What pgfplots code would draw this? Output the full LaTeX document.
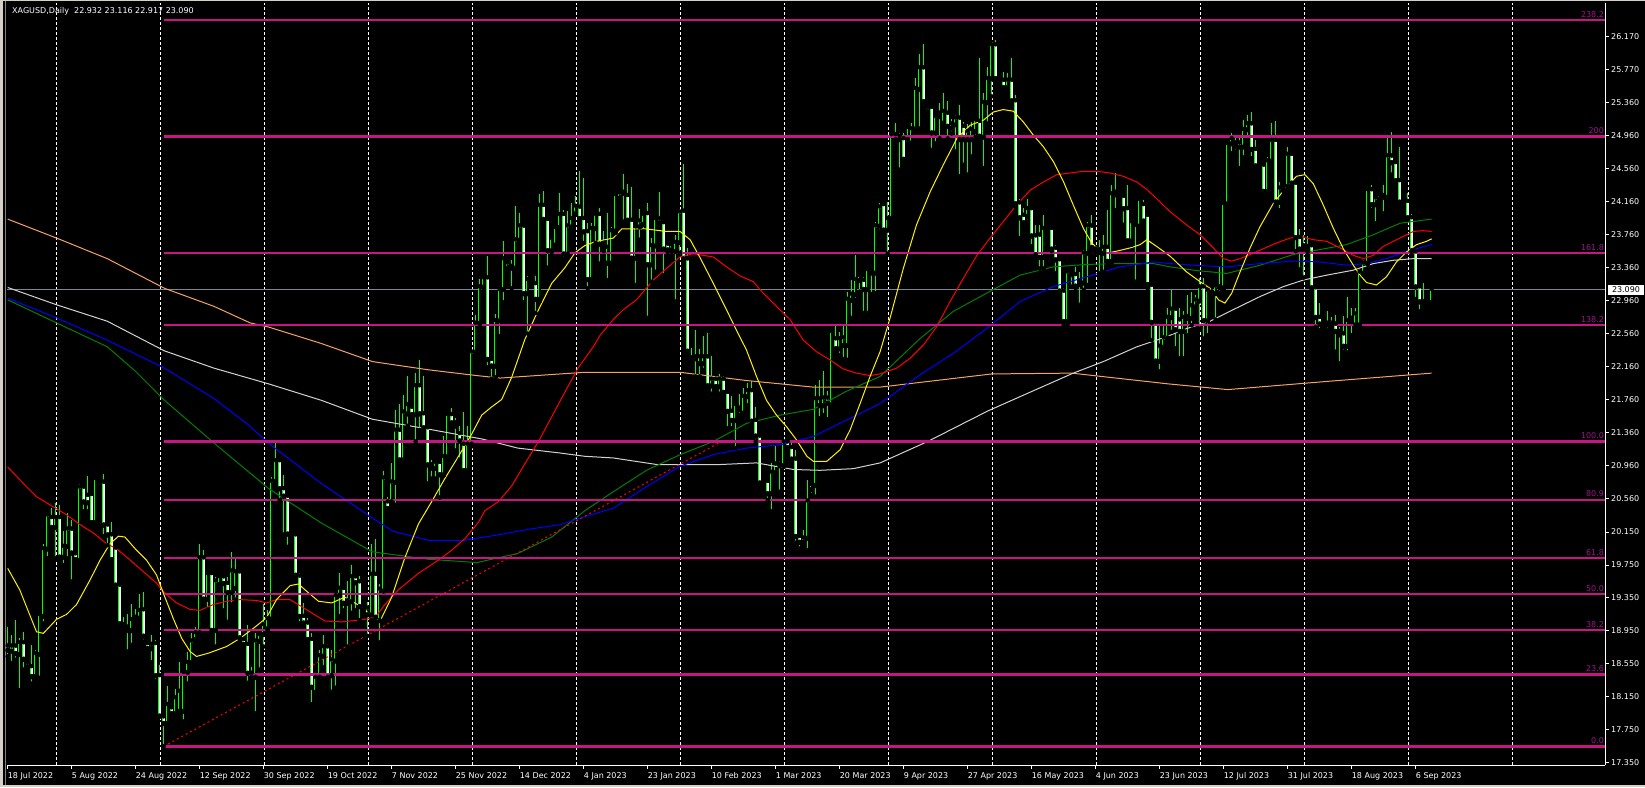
\documentclass[border=0pt]{standalone}
\usepackage{pgfplots}
\usepackage{pgfplotstable}
\pgfplotsset{compat=1.18}
\usepackage{fontspec}
\setmainfont{DejaVu Sans}

\definecolor{candle}{RGB}{0,255,0}
\definecolor{fibc}{RGB}{199,21,133}
\definecolor{fibt}{RGB}{160,20,140}
\definecolor{pricel}{RGB}{120,135,150}
\definecolor{maorange}{RGB}{244,164,96}
\definecolor{magreen}{RGB}{0,128,0}
\definecolor{mablue}{RGB}{0,0,255}
\definecolor{mawhite}{RGB}{210,210,210}
\definecolor{frame}{RGB}{212,208,200}
\newcommand{\tk}{\fontsize{8}{9}\selectfont}
\tikzset{fib/.style={fibc, line width=2.2pt},
  fibl/.style={pos=1, anchor=south east, inner sep=0pt, yshift=1.6pt, text=fibt, font=\tk}}

% XAGUSD daily, one row per bar (18 Jul 2022 .. 11 Sep 2023)
\pgfplotstableread{
o h l c
18.76 19.00 18.64 18.71
18.76 18.90 18.56 18.70
18.76 19.08 18.60 18.67
18.66 18.86 18.23 18.80
18.80 18.94 18.48 18.60
18.56 18.58 18.48 18.51
18.51 18.78 18.31 18.39
18.39 18.72 18.38 18.67
18.66 19.18 18.38 19.14
19.12 20.01 19.04 19.94
19.94 20.36 19.83 20.35
20.32 20.44 20.18 20.20
20.20 20.50 19.83 20.32
20.32 20.48 19.83 19.84
19.84 20.16 19.75 19.97
19.97 20.38 19.83 20.18
20.18 20.30 19.55 19.89
19.88 19.89 19.79 19.81
19.80 20.73 19.78 20.69
20.69 20.71 20.40 20.51
20.59 20.83 20.40 20.50
20.60 20.62 20.24 20.26
20.26 20.82 20.22 20.79
20.76 20.80 20.74 20.77
20.75 20.86 20.10 20.23
20.23 20.26 19.99 20.11
20.11 20.27 19.79 19.81
19.95 19.97 19.47 19.50
19.50 19.51 19.00 19.03
19.02 19.12 18.97 18.99
18.99 19.15 18.70 18.95
18.95 19.28 18.78 19.08
19.11 19.22 19.08 19.08
19.10 19.40 19.08 19.19
19.20 19.42 18.82 18.88
18.79 18.82 18.71 18.73
18.73 18.90 18.57 18.78
18.79 18.84 18.34 18.40
18.40 18.54 17.91 17.91
17.90 17.91 17.55 17.82
17.82 18.28 17.77 18.05
18.01 18.03 17.93 17.94
17.94 18.25 17.91 18.13
17.97 18.57 17.96 18.21
17.97 18.48 17.85 18.44
18.44 18.70 18.31 18.56
18.56 18.93 18.55 18.82
18.84 19.00 18.80 18.92
18.92 20.01 18.90 19.83
19.83 19.93 19.28 19.33
19.33 19.66 19.21 19.64
19.64 19.66 18.90 18.95
18.95 19.61 18.76 19.55
19.51 19.64 19.50 19.60
19.60 19.63 19.20 19.52
19.52 19.61 19.06 19.41
19.41 19.91 19.27 19.67
19.46 19.85 19.33 19.66
19.66 19.69 18.85 18.86
18.84 18.88 18.76 18.78
18.78 19.02 18.32 18.43
18.43 18.51 18.36 18.38
18.38 18.92 17.95 18.82
18.82 18.94 18.48 18.90
18.90 19.28 18.76 19.02
18.97 19.20 18.96 19.09
19.09 20.82 19.08 20.76
20.76 21.24 20.74 21.01
21.01 21.03 20.54 20.67
20.67 20.84 20.12 20.58
20.58 20.60 19.97 20.12
20.12 20.16 20.08 20.13
20.11 20.13 19.61 19.62
19.61 19.65 19.04 19.12
19.12 19.29 19.01 19.04
19.04 19.11 18.79 18.84
18.84 18.92 18.06 18.26
18.20 18.40 18.19 18.38
18.38 18.72 18.37 18.64
18.64 18.90 18.51 18.75
18.75 18.79 18.33 18.38
18.40 18.72 18.21 18.59
18.58 19.38 18.26 19.37
19.38 19.65 19.13 19.46
19.46 19.49 19.20 19.28
19.28 19.56 18.76 19.31
19.30 19.75 19.17 19.60
19.60 19.63 19.20 19.53
19.54 19.62 19.08 19.24
19.24 19.26 19.15 19.20
19.14 19.30 18.89 19.22
19.14 20.01 19.08 19.63
19.63 20.07 19.11 19.11
19.07 19.52 18.81 19.45
19.43 20.89 19.43 20.80
20.51 20.57 20.43 20.43
20.51 20.99 20.50 20.75
20.75 21.63 20.48 21.38
21.38 21.71 20.98 21.02
21.02 21.82 21.02 21.60
21.58 22.05 21.44 21.69
21.66 21.69 21.57 21.57
21.57 22.08 21.25 21.92
21.92 22.24 21.39 21.58
21.58 22.04 21.39 21.41
21.41 21.44 20.74 20.96
20.96 21.03 20.80 20.92
20.92 21.00 20.80 20.99
20.99 21.00 20.57 20.84
20.84 21.32 20.84 21.06
21.06 21.60 21.05 21.57
21.57 21.66 21.44 21.47
21.47 21.53 21.14 21.43
21.34 21.44 21.03 21.25
21.21 21.61 20.87 20.89
20.89 21.44 20.89 21.21
21.21 22.35 21.19 22.33
22.33 22.79 22.32 22.68
22.68 23.22 22.67 23.12
23.12 23.26 23.09 23.23
23.23 23.50 22.15 22.24
22.24 22.26 22.01 22.16
22.16 22.80 22.03 22.71
22.71 23.13 22.53 23.09
23.09 23.68 22.94 23.46
23.35 23.42 23.31 23.41
23.35 23.45 23.11 23.37
23.35 24.11 23.33 23.69
23.69 24.02 23.68 23.86
23.86 23.88 22.94 23.04
23.04 23.26 22.56 23.21
23.18 23.21 23.14 23.16
23.16 23.26 22.81 22.97
22.97 24.25 22.95 24.11
24.11 24.29 23.93 23.94
23.94 23.94 23.36 23.56
23.56 23.74 23.55 23.71
23.63 23.84 23.61 23.84
23.84 24.27 23.81 24.00
24.00 24.06 23.46 23.52
23.52 24.05 23.52 23.86
23.85 24.14 23.84 23.95
24.01 24.23 24.00 24.10
24.09 24.54 23.93 23.95
23.95 24.45 23.66 23.79
23.79 23.90 23.11 23.21
23.21 23.90 23.19 23.83
23.83 24.04 23.66 24.00
24.00 24.08 23.41 23.64
23.65 23.80 23.56 23.61
23.41 24.02 23.21 23.60
23.41 23.86 23.39 23.80
23.80 24.28 23.78 24.24
24.20 24.28 24.16 24.26
24.26 24.50 23.92 24.27
24.23 24.38 23.88 23.93
23.93 24.34 23.47 23.47
23.47 23.88 23.15 23.85
23.85 24.07 23.70 23.92
23.88 24.02 23.80 24.00
24.01 24.15 22.75 23.39
23.39 23.72 23.19 23.62
23.62 23.97 23.31 23.95
23.95 24.28 23.86 23.90
23.90 23.92 23.27 23.58
23.64 23.66 23.55 23.57
23.57 23.66 23.55 23.63
23.55 23.76 22.95 23.66
23.66 24.07 23.54 24.03
24.04 24.62 23.46 23.46
23.46 23.60 22.33 22.34
22.26 22.38 22.20 22.22
22.27 22.60 22.04 22.25
22.19 22.37 22.04 22.27
22.19 22.53 22.12 22.27
22.27 22.57 21.90 21.92
21.92 22.29 21.83 22.00
22.00 22.04 21.90 21.91
21.91 22.07 21.83 22.00
22.00 22.04 21.84 21.84
21.84 21.87 21.41 21.61
21.61 21.80 21.41 21.50
21.50 21.72 21.17 21.69
21.63 21.83 21.57 21.65
21.59 21.90 21.59 21.79
21.79 21.96 21.69 21.86
21.86 21.98 21.47 21.49
21.50 21.67 21.25 21.31
21.31 21.33 20.71 20.74
20.77 20.79 20.74 20.76
20.76 20.78 20.54 20.61
20.61 20.99 20.40 20.87
20.87 21.19 20.83 20.97
20.97 21.01 20.64 20.95
20.95 21.25 20.94 21.24
21.24 21.25 21.15 21.17
21.17 21.23 21.00 21.03
21.03 21.15 20.02 20.09
20.09 20.12 19.95 20.02
20.02 20.17 19.97 20.07
20.07 20.78 19.93 20.52
20.66 20.76 20.60 20.72
20.71 21.94 20.58 21.76
21.68 22.00 21.53 21.76
21.68 22.10 21.57 21.77
21.77 21.86 21.52 21.71
21.69 22.60 21.68 22.58
22.49 22.67 22.34 22.37
22.37 22.58 22.30 22.49
22.41 22.65 22.25 22.50
22.41 23.07 22.24 22.97
22.96 23.21 22.75 23.03
23.03 23.52 22.97 23.21
23.20 23.27 23.07 23.26
23.20 23.25 22.81 23.09
23.09 23.35 22.81 23.33
23.33 23.37 23.04 23.29
23.29 23.92 23.05 23.86
23.86 24.15 23.80 24.09
24.12 24.16 23.76 23.81
23.81 24.16 23.53 23.95
23.95 25.01 23.94 24.97
24.91 25.12 24.89 24.97
24.91 24.99 24.55 24.95
24.92 24.99 24.66 24.67
24.86 25.05 24.81 24.91
24.87 25.12 24.86 25.04
25.04 25.66 25.02 25.53
25.52 25.95 25.05 25.78
25.78 26.07 25.36 25.37
25.30 25.32 25.25 25.25
25.30 25.34 24.79 24.99
24.99 25.22 24.87 25.19
25.23 25.36 24.93 25.19
25.11 25.48 25.09 25.25
25.23 25.38 24.93 25.07
25.05 25.17 24.99 25.10
25.09 25.22 24.77 25.17
25.17 25.34 24.47 24.91
25.07 25.13 24.61 24.91
24.91 25.11 24.49 25.01
24.91 25.13 24.71 25.03
25.01 25.17 24.95 25.15
25.13 25.90 24.93 24.95
24.94 25.48 24.57 25.36
25.36 25.80 25.11 25.65
25.65 26.07 25.44 26.06
26.06 26.12 25.62 25.65
25.65 25.68 25.60 25.62
25.63 25.74 25.50 25.54
25.54 25.72 25.50 25.63
25.63 25.90 25.35 25.38
25.38 25.46 24.10 24.13
24.14 24.20 23.72 23.96
23.99 24.08 23.87 23.90
23.98 24.20 23.92 24.07
24.07 24.09 23.62 23.74
23.74 23.88 23.51 23.51
23.75 23.88 23.35 23.48
23.48 24.00 23.35 23.83
23.84 23.86 23.82 23.85
23.83 23.86 23.56 23.58
23.59 23.64 23.29 23.45
23.45 23.47 23.03 23.07
23.07 23.11 22.66 22.70
22.70 23.32 22.66 23.30
23.27 23.31 23.13 23.30
23.27 23.37 23.11 23.13
23.19 23.31 22.91 23.15
23.17 23.58 23.09 23.53
23.53 23.92 23.15 23.86
23.86 24.00 23.55 23.60
23.58 23.60 23.54 23.57
23.57 23.70 23.29 23.54
23.53 23.76 23.31 23.60
23.60 24.06 23.41 23.43
23.43 24.36 23.42 24.25
24.24 24.51 24.06 24.27
24.22 24.24 24.20 24.22
24.22 24.26 23.88 24.07
24.07 24.37 23.66 23.68
23.68 23.95 23.64 23.91
23.88 23.92 23.19 23.90
23.86 24.21 23.84 24.18
24.12 24.18 23.90 23.92
23.99 24.02 23.11 23.15
23.14 23.17 22.48 22.69
22.69 22.71 22.18 22.22
22.22 22.66 22.10 22.40
22.39 22.66 22.36 22.50
22.50 22.87 22.48 22.75
22.75 23.09 22.58 22.85
22.85 22.87 22.38 22.60
22.72 22.87 22.26 22.58
22.58 22.83 22.26 22.75
22.74 23.03 22.54 22.76
22.74 23.07 22.66 22.89
22.88 23.03 22.83 22.96
22.95 23.23 22.62 23.12
23.12 23.24 22.50 22.71
22.71 23.11 22.54 23.08
23.05 23.09 23.01 23.06
23.04 23.14 22.73 23.13
23.11 23.37 23.05 23.12
23.11 24.14 23.10 24.13
24.13 24.89 24.10 24.86
24.86 25.00 24.75 24.92
24.87 24.93 24.77 24.83
24.87 24.93 24.57 24.82
24.82 25.15 24.70 25.03
25.03 25.22 24.91 25.10
25.10 25.25 24.69 24.79
24.79 24.91 24.58 24.59
24.61 24.62 24.57 24.58
24.60 24.63 24.26 24.28
24.28 24.71 24.26 24.65
24.65 25.12 24.63 24.90
24.90 25.14 24.12 24.15
24.15 24.40 24.06 24.32
24.34 24.37 24.28 24.30
24.34 24.83 24.32 24.73
24.73 24.75 24.37 24.38
24.38 24.41 23.56 23.72
23.72 23.83 23.34 23.58
23.58 23.76 23.24 23.62
23.60 23.74 23.55 23.61
23.62 23.64 23.09 23.11
23.11 23.13 22.64 22.75
22.75 22.93 22.60 22.67
22.68 22.70 22.62 22.67
22.68 22.83 22.60 22.66
22.66 22.76 22.62 22.68
22.67 22.79 22.34 22.58
22.58 22.64 22.20 22.54
22.55 22.77 22.34 22.40
22.40 23.01 22.33 22.71
22.70 22.87 22.54 22.74
22.66 22.87 22.63 22.79
22.66 23.35 22.64 23.30
23.29 23.45 23.27 23.41
23.41 24.34 23.40 24.30
24.30 24.36 24.06 24.12
24.12 24.22 23.90 24.20
24.19 24.28 24.14 24.24
24.21 24.37 24.02 24.23
24.21 24.93 24.20 24.71
24.71 25.01 24.49 24.63
24.63 24.67 24.38 24.41
24.41 24.82 24.15 24.15
24.15 24.17 24.10 24.15
24.16 24.27 23.95 23.96
23.96 24.01 23.55 23.56
23.55 23.59 22.98 23.12
23.12 23.15 22.83 22.94
22.94 23.17 22.86 22.90
22.89 22.96 22.85 22.93
22.932 23.116 22.917 23.090
}\candles

\begin{document}
\begin{tikzpicture}
\useasboundingbox (0,0) rectangle (1645pt,787pt);
\fill[black] (0,0) rectangle (1645pt,787pt);
% window frame
\fill[frame] (0,0) rectangle (3pt,787pt);
\fill[frame] (0,0) rectangle (1645pt,2pt);
\fill[frame] (0,785.5pt) rectangle (1645pt,787pt);
\draw[gray, line width=1pt] (5pt,2pt) -- (5pt,785.5pt);
\begin{axis}[
  at={(7pt,22pt)}, anchor=south west,
  scale only axis, width=1598pt, height=762pt,
  xmin=-0.175, xmax=399.33, ymin=17.322, ymax=26.574,
  axis x line=bottom, axis y line=right,
  axis line style={draw=white, line width=1pt, -},
  tick align=outside, major tick length=4pt,
  tick style={draw=white, line width=1pt},
  xtick={0,16,...,352},
  xticklabels={18 Jul 2022,5 Aug 2022,24 Aug 2022,12 Sep 2022,30 Sep 2022,19 Oct 2022,7 Nov 2022,25 Nov 2022,14 Dec 2022,4 Jan 2023,23 Jan 2023,10 Feb 2023,1 Mar 2023,20 Mar 2023,9 Apr 2023,27 Apr 2023,16 May 2023,4 Jun 2023,23 Jun 2023,12 Jul 2023,31 Jul 2023,18 Aug 2023,6 Sep 2023},
  xticklabel style={anchor=north west, inner sep=0pt, text=white, font=\tk, yshift=-3pt},
  ytick={17.35,17.75,18.15,18.55,18.95,19.35,19.75,20.15,20.56,20.96,21.36,21.76,22.16,22.56,22.96,23.36,23.76,24.16,24.56,24.96,25.36,25.77,26.17},
  yticklabels={17.350,17.750,18.150,18.550,18.950,19.350,19.750,20.150,20.560,20.960,21.360,21.760,22.160,22.560,22.960,23.360,23.760,24.160,24.560,24.960,25.360,25.770,26.170},
  yticklabel style={anchor=west, inner sep=0pt, text=white, font=\tk, xshift=2pt},
  extra x ticks={12.15,38.15,...,376.15},
  extra x tick labels={},
  extra x tick style={grid=major, major tick length=0pt,
    major grid style={draw=white, line width=1pt, dash pattern=on 3pt off 2pt}},
  clip=false,
]
% current price line
\addplot[pricel, line width=1pt] coordinates {(-0.175,23.09) (399.33,23.09)}
  node[pos=1, anchor=west, xshift=2.7pt, fill=white, text=black, font=\tk,
       inner xsep=2pt, inner ysep=1pt, minimum height=10.7pt, minimum width=35.6pt] {23.090};

% wicks
\addplot[only marks, mark=none, forget plot,
  error bars/.cd, y dir=plus, y explicit, error mark=none,
  error bar style={draw=candle, line width=1pt}]
  table[x expr=\coordindex, y=l, y error plus expr=\thisrow{h}-\thisrow{l}] {\candles};
% bodies (outline)
\addplot[only marks, mark=none, forget plot,
  error bars/.cd, y dir=plus, y explicit, error mark=none,
  error bar style={draw=candle, line width=3.4pt}]
  table[x expr=\coordindex, y expr={min(\thisrow{o},\thisrow{c})},
        y error plus expr={max(abs(\thisrow{c}-\thisrow{o}),0.013)}] {\candles};
% bull bodies: black inside
\addplot[only marks, mark=none, forget plot,
  error bars/.cd, y dir=plus, y explicit, error mark=none,
  error bar style={draw=black, line width=1.6pt}]
  table[x expr=\coordindex, y expr={\thisrow{o}+0.0122},
        y error plus expr={max(0,\thisrow{c}-\thisrow{o}-0.0244)}] {\candles};
% bear bodies: white inside
\addplot[only marks, mark=none, forget plot,
  error bars/.cd, y dir=plus, y explicit, error mark=none,
  error bar style={draw=white, line width=1.6pt}]
  table[x expr=\coordindex, y expr={\thisrow{c}+0.0122},
        y error plus expr={max(0,\thisrow{o}-\thisrow{c}-0.0244)}] {\candles};

% moving averages
\addplot[maorange, line width=1pt] coordinates {
(0,23.95) (12.2,23.72) (24.9,23.47) (39.2,23.11) (51.6,22.89) (60.6,22.69) (65.2,22.64) (78.4,22.44) (91.2,22.22) (105.2,22.12) (117.3,22.05) (123.1,22.02) (138.1,22.07) (144.3,22.09) (168.1,22.09) (176.4,22.04) (184.7,21.99) (193.1,21.95) (201.4,21.91) (218.1,21.91) (246,22.07) (266,22.08) (290,21.95) (305,21.88) (330,21.98) (356,22.08)};
\addplot[mawhite, line width=1pt] coordinates {
(0,23.12) (12.2,22.91) (24.9,22.71) (39.2,22.35) (51.6,22.14) (65.2,21.95) (78.4,21.75) (91.2,21.52) (105.2,21.40) (118.6,21.28) (127.5,21.17) (138.1,21.11) (144.3,21.07) (151.4,21.05) (162.3,20.97) (178,20.97) (187.2,20.99) (196.4,20.91) (203.1,20.90) (211.4,20.92) (218.1,20.99) (230,21.25) (245,21.62) (258,21.90) (266.4,22.08) (273.9,22.22) (282.3,22.40) (287.2,22.48) (290.6,22.54) (294.7,22.62) (300.6,22.71) (307.2,22.87) (313.1,23.01) (318.9,23.13) (323.9,23.21) (329.8,23.27) (336.4,23.33) (341.4,23.41) (346.4,23.45) (351.4,23.47) (356,23.47)};
\addplot[magreen, line width=1pt] coordinates {
(0,22.97) (12.2,22.69) (24.9,22.40) (32,22.10) (39.2,21.75) (51.6,21.23) (65.2,20.68) (78.4,20.26) (91.2,19.91) (105.2,19.82) (117.3,19.78) (127.5,19.89) (136,20.09) (144.3,20.41) (151.4,20.64) (159.7,20.90) (168.1,21.09) (176.4,21.25) (184.7,21.47) (193.1,21.57) (201.4,21.64) (209.7,21.86) (218.1,22.04) (228.1,22.50) (236.4,22.83) (244.7,23.05) (253.1,23.27) (261.4,23.37) (269.8,23.40) (278.1,23.41) (286.4,23.41) (290.6,23.37) (296.4,23.33) (304.7,23.29) (313.1,23.39) (321.4,23.52) (328.1,23.58) (334.7,23.64) (341.4,23.76) (348.1,23.90) (356,23.95)};
\addplot[mablue, line width=1pt] coordinates {
(0,22.99) (12.2,22.75) (24.9,22.48) (39.2,22.14) (51.6,21.77) (59.7,21.47) (65.2,21.23) (78.4,20.74) (91.2,20.32) (96.3,20.16) (105.2,20.05) (114.1,20.05) (123.1,20.12) (131,20.19) (138.1,20.24) (143.1,20.32) (151.4,20.44) (159.7,20.70) (168.1,20.95) (176.4,21.09) (184.7,21.17) (193.1,21.21) (201.4,21.31) (209.7,21.51) (218.1,21.71) (228.1,22.06) (236.4,22.32) (244.7,22.62) (253.1,22.95) (261.4,23.13) (269.8,23.25) (278.1,23.37) (286.4,23.43) (290.6,23.41) (296.4,23.39) (304.7,23.37) (313.1,23.41) (321.4,23.44) (328.1,23.43) (334.7,23.39) (339.7,23.41) (344.7,23.47) (349.7,23.56) (356,23.64)};
\addplot[red, line width=1pt] coordinates {
(0,20.94) (4.7,20.70) (7.2,20.58) (10.6,20.48) (14.7,20.36) (18.1,20.24) (21.4,20.14) (24.7,20.01) (27.2,19.95) (30.6,19.81) (33.9,19.67) (37.2,19.53) (39.3,19.41) (42.2,19.29) (45.6,19.21) (48.1,19.20) (51.4,19.27) (54.7,19.31) (58.1,19.33) (62.2,19.32) (64.7,19.29) (67.2,19.33) (70.6,19.33) (74.3,19.22) (79.3,19.07) (83.5,19.06) (87.7,19.08) (91.8,19.11) (94.3,19.27) (97.7,19.45) (102.7,19.65) (107.7,19.81) (111,19.93) (114.3,20.07) (117.7,20.27) (119.3,20.41) (122.7,20.52) (126,20.71) (129.3,20.98) (132.7,21.25) (136,21.55) (139.3,21.85) (142.7,22.15) (146.4,22.40) (148.1,22.54) (151.4,22.73) (153.9,22.85) (157.2,22.97) (161.4,23.21) (165.6,23.39) (168.1,23.49) (171.4,23.53) (176.4,23.49) (179.7,23.37) (183.1,23.26) (186.4,23.19) (188.9,23.05) (192.2,22.89) (195.6,22.73) (198.9,22.48) (202.2,22.34) (205.6,22.24) (208.9,22.13) (212.2,22.08) (215.6,22.05) (218.1,22.07) (222.2,22.14) (225.6,22.26) (228.9,22.42) (232.2,22.64) (235.6,22.95) (238.9,23.23) (242.3,23.51) (245.6,23.72) (248.9,23.92) (252.2,24.12) (255.6,24.30) (258.9,24.40) (262.3,24.49) (265.6,24.51) (268.9,24.53) (272.3,24.53) (275.6,24.51) (278.9,24.47) (282.3,24.40) (284.8,24.31) (287.2,24.20) (290.6,24.04) (294.7,23.88) (298.1,23.76) (301.4,23.60) (303.9,23.47) (306,23.44) (308.1,23.47) (310.6,23.52) (313.9,23.59) (317.2,23.66) (320.6,23.72) (323.1,23.74) (326.4,23.70) (329.8,23.68) (333.1,23.60) (336.4,23.51) (338.9,23.47) (341.4,23.51) (343.9,23.62) (346.4,23.68) (348.9,23.74) (351.4,23.80) (353.9,23.81) (356,23.80)};
\addplot[yellow, line width=1pt] coordinates {
(0,19.71) (3,19.45) (7.2,18.94) (8.9,18.92) (12.2,19.09) (14.7,19.15) (17.2,19.27) (20.6,19.57) (23.1,19.81) (25.6,20.01) (27.7,20.10) (29.3,20.09) (32.2,19.93) (34.7,19.81) (37.2,19.63) (38.9,19.41) (41.4,19.10) (43.5,18.86) (45.6,18.70) (47.2,18.64) (50.2,18.68) (54.7,18.76) (58.1,18.86) (61.4,18.98) (64.7,19.11) (67.2,19.33) (70.6,19.50) (72.7,19.52) (74.3,19.45) (77.7,19.31) (81,19.29) (84.3,19.36) (88.5,19.24) (91,19.13) (93.1,19.07) (96,19.36) (99.3,19.84) (102.7,20.25) (106,20.52) (109.3,20.80) (112.7,21.07) (116,21.34) (118.5,21.57) (121,21.67) (123.5,21.76) (126,22.03) (129.3,22.49) (132.7,22.85) (136,23.17) (139.3,23.36) (141.8,23.54) (144.3,23.63) (147.2,23.68) (151.4,23.72) (153.5,23.83) (159.7,23.83) (164.7,23.80) (168.1,23.80) (170.6,23.70) (173,23.49) (176.4,23.17) (179.7,22.85) (182.2,22.60) (184.7,22.36) (187.2,22.04) (189.7,21.75) (192.2,21.57) (194.7,21.43) (197.2,21.27) (199.8,21.07) (201.4,21.01) (204.8,21.01) (208.1,21.15) (210.6,21.39) (213.1,21.71) (215.6,22.04) (218.1,22.34) (220.6,22.75) (223.9,23.35) (227.2,23.88) (230.6,24.28) (233.9,24.61) (237.3,24.93) (240.6,25.09) (243.9,25.15) (246.4,25.25) (248.9,25.28) (251.4,25.26) (253.9,25.13) (256.4,24.97) (258.9,24.83) (261.4,24.65) (263.9,24.41) (266.4,24.12) (268.9,23.84) (271,23.66) (273.9,23.53) (277.2,23.56) (280.6,23.60) (283.1,23.64) (284.8,23.70) (287.2,23.62) (290.6,23.50) (294.7,23.31) (298.1,23.19) (300.6,23.11) (302.7,22.97) (304.3,22.93) (306,23.05) (308.1,23.31) (310.6,23.60) (313.1,23.86) (316.4,24.14) (319.7,24.34) (322.2,24.47) (324.3,24.49) (326.4,24.38) (328.9,24.12) (331.4,23.84) (333.9,23.59) (336.4,23.39) (338.1,23.27) (339.7,23.18) (342.2,23.15) (344.7,23.25) (347.2,23.43) (349.7,23.55) (352.2,23.64) (354.7,23.68) (356,23.71)};

% trend line from the 1 Sep 2022 low
\addplot[red, line width=1pt, dash pattern=on 2pt off 3pt] coordinates {(39,17.547) (177.7,21.23)};

% Fibonacci levels
\addplot[fib] coordinates {(39,17.547) (399.33,17.547)} node[fibl] {0.0};
\addplot[fib] coordinates {(39,18.421) (399.33,18.421)} node[fibl] {23.6};
\addplot[fib] coordinates {(39,18.962) (399.33,18.962)} node[fibl] {38.2};
\addplot[fib] coordinates {(39,19.399) (399.33,19.399)} node[fibl] {50.0};
\addplot[fib] coordinates {(39,19.836) (399.33,19.836)} node[fibl] {61.8};
\addplot[fib] coordinates {(39,20.543) (399.33,20.543)} node[fibl] {80.9};
\addplot[fib] coordinates {(39,21.250) (399.33,21.250)} node[fibl] {100.0};
\addplot[fib] coordinates {(39,22.665) (399.33,22.665)} node[fibl] {138.2};
\addplot[fib] coordinates {(39,23.539) (399.33,23.539)} node[fibl] {161.8};
\addplot[fib] coordinates {(39,24.953) (399.33,24.953)} node[fibl] {200};
\addplot[fib] coordinates {(39,26.368) (399.33,26.368)} node[fibl] {238.2};
\end{axis}
\node[anchor=west, inner sep=0pt, text=white, font=\tk] at (12pt,775.5pt) {XAGUSD,Daily\ \ 22.932 23.116 22.917 23.090};
\end{tikzpicture}
\end{document}
